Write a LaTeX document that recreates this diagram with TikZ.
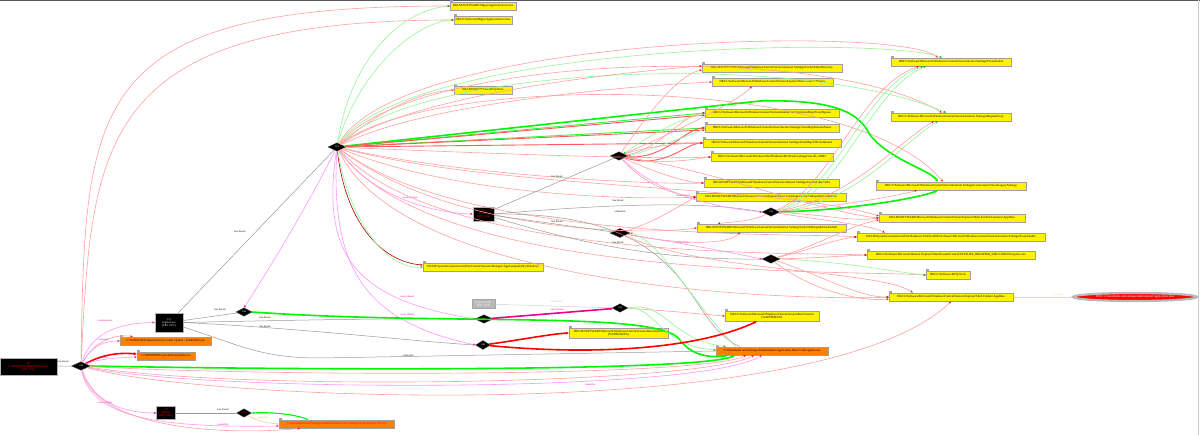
\documentclass[tikz,border=0pt]{standalone}
\usepackage{fontspec}
\setmainfont{Liberation Serif}
\usetikzlibrary{shapes.geometric,arrows.meta}
\definecolor{lred}{RGB}{255,160,160}
\definecolor{lgreen}{RGB}{150,245,150}
\definecolor{lmag}{RGB}{255,150,255}
\definecolor{tgreen}{RGB}{0,245,0}
\definecolor{peach}{RGB}{255,205,140}
\definecolor{yel}{RGB}{240,240,60}
\newcommand{\bsl}{\textbackslash}
\newcommand{\tf}{\fontsize{3.1}{3.5}\selectfont}
\newcommand{\lf}{\fontsize{2.6}{3}\selectfont}
\newcommand{\pf}{\fontsize{2.8}{3.1}\selectfont}
\newcommand{\df}{\fontsize{2.2}{2.5}\selectfont}
\tikzset{
  lab/.style={font=\lf, inner sep=0.3pt, text=black},
  labm/.style={lab, text=magenta},
  proc/.style={rectangle, fill=black, draw=gray!60, line width=0.6pt, inner sep=0.5pt, align=center, font=\pf},
  dia/.style={diamond, fill=black, draw=black!70, line width=0.4pt, inner sep=0pt, aspect=2.2, minimum width=18pt, minimum height=8.5pt, font=\df, text=white},
  reg/.style={rectangle, fill=yellow, draw=gray!75, line width=0.45pt, inner sep=0.5pt, minimum height=8.5pt, font=\tf, align=center},
  fil/.style={reg, fill=orange},
  rl/.style={draw=lred, line width=0.6pt, -{Stealth[length=2.4pt,width=2pt,color=red]}},
  rm/.style={draw=red!65, line width=0.9pt, -{Stealth[length=2.6pt,width=2.4pt,color=red]}},
  gl/.style={draw=lgreen, line width=0.6pt, -{Stealth[length=2.4pt,width=2pt,color=green!70!black]}},
  gm/.style={draw=tgreen!80, line width=0.9pt, -{Stealth[length=2.6pt,width=2.4pt,color=green!70!black]}},
  ml/.style={draw=lmag, line width=0.6pt, -{Stealth[length=2.4pt,width=2pt,color=magenta]}},
  tg/.style={draw=tgreen, line width=1.6pt, -{Stealth[length=3pt,width=3pt]}},
  mg/.style={draw=tgreen, line width=1.1pt, -{Stealth[length=2.6pt,width=2.6pt]}},
  tr/.style={draw=red, line width=1.6pt, -{Stealth[length=3pt,width=3pt]}},
  tm/.style={draw=magenta, line width=1.6pt, -{Stealth[length=3pt,width=3pt]}},
  gy/.style={draw=gray!80, line width=0.5pt},
  lgy/.style={draw=gray!35, line width=0.5pt},
  pe/.style={draw=peach, line width=0.6pt, -{Stealth[length=2.4pt,width=2pt,color=peach]}},
  yl/.style={draw=yel, line width=0.6pt, -{Stealth[length=2.4pt,width=2pt,color=yel]}},
}
\begin{document}
\begin{tikzpicture}[x=1pt,y=-1pt]
\useasboundingbox (0,0) rectangle (1200,435);
\fill[white] (0,0) rectangle (1200,435);
\draw[gray!70!black, line width=0.8pt] (0,0.4) -- (1200,0.4);
\draw[gray!40, line width=0.6pt] (1198.5,0) -- (1198.5,435);

% ---------- processes ----------
\node[proc, text=red, minimum width=57pt, minimum height=17pt] (P0) at (28.5,366.5) {[0]\\C:\bsl WINDOWS\bsl TEMP\bsl 8d9a6ca.exe\\(PID: 1792)};
\node[proc, text=white, minimum width=28pt, minimum height=19pt] (P1) at (169,322.5) {[1]\\explorer.exe\\(PID: 1972)};
\node[proc, text=red, minimum width=21pt, minimum height=14pt] (P2) at (483.5,214) {[2]\\iexplore\\(PID: 1748)};
\node[proc, text=red, minimum width=19pt, minimum height=13pt] (P3) at (166,413) {[3]\\cmd.exe\\(PID: 1836)};
\node[proc, fill=gray!55, draw=gray!70, text=white, minimum width=23pt, minimum height=9pt] (P4) at (483.5,304) {Explorer.EXE\\(PID: 1736)};

% ---------- threads ----------
\node[dia, minimum width=19pt] (D0) at (81,366) {1796};
\node[dia] (D1) at (337,147) {1976};
\node[dia, minimum width=16pt] (D2) at (244,312) {1980};
\node[dia, text=red] (D3) at (619,156) {1752};
\node[dia, text=red, minimum width=20pt, minimum height=9pt] (D4) at (620,233) {1760};
\node[dia] (D5) at (771,212) {1764};
\node[dia, text=red] (D6) at (771,259) {1768};
\node[dia, text=red] (D7) at (484,319) {1984};
\node[dia, minimum width=16pt] (D8) at (620,308) {1740};
\node[dia, minimum width=15pt, minimum height=9pt] (D9) at (483,345) {1988};
\node[dia, text=red, minimum width=15pt] (D10) at (244,413) {1840};

% ---------- registry keys ----------
\node[reg, minimum width=66pt] (R1) at (483,6) {HKLM\bsl SOFTWARE\bsl Mipps\bsl ApplicationLicense};
\node[reg, minimum width=58pt] (R2) at (483,20) {HKCU\bsl Software\bsl Mipps\bsl ApplicationLicense};
\node[reg, minimum width=58pt] (R3) at (483,90) {HKLM\bsl SOFTWARE\bsl RVQ\bsl Tools};
\node[reg, minimum width=140pt] (R4) at (772,68) {HKLM\bsl SOFTWARE\bsl Microsoft\bsl Windows\bsl CurrentVersion\bsl Internet Settings\bsl Cache\bsl Paths\bsl Directory};
\node[reg, minimum width=121pt] (R5) at (772.5,82) {HKCU\bsl Software\bsl Microsoft\bsl Windows\bsl CurrentVersion\bsl Explorer\bsl Shell Folders\bsl History};
\node[reg, minimum width=134pt] (R6) at (772,113) {HKCU\bsl Software\bsl Microsoft\bsl Windows\bsl CurrentVersion\bsl Internet Settings\bsl ZoneMap\bsl ProxyBypass};
\node[reg, minimum width=134pt] (R7) at (772,128) {HKCU\bsl Software\bsl Microsoft\bsl Windows\bsl CurrentVersion\bsl Internet Settings\bsl ZoneMap\bsl IntranetName};
\node[reg, minimum width=138pt] (R8) at (772,143) {HKCU\bsl Software\bsl Microsoft\bsl Windows\bsl CurrentVersion\bsl Internet Settings\bsl ZoneMap\bsl UNCAsIntranet};
\node[reg, minimum width=122pt] (R9) at (772,157) {HKCU\bsl Software\bsl Microsoft\bsl Windows\bsl ShellNoRoam\bsl MUICache\bsl @xpsp3res.dll,-20001};
\node[reg, minimum width=135pt] (R10) at (771.5,183) {HKLM\bsl SOFTWARE\bsl Microsoft\bsl Windows\bsl CurrentVersion\bsl Internet Settings\bsl Cache\bsl Paths\bsl Paths};
\node[reg, minimum width=150pt] (R11) at (771,197) {HKLM\bsl SOFTWARE\bsl Microsoft\bsl Windows\bsl CurrentVersion\bsl Internet Settings\bsl Cache\bsl Paths\bsl path1\bsl CachePath};
\node[reg, minimum width=149pt] (R12) at (771.5,228) {HKLM\bsl SOFTWARE\bsl Microsoft\bsl Windows\bsl CurrentVersion\bsl Internet Settings\bsl Cache\bsl Paths\bsl path4\bsl CachePath};
\node[reg, minimum width=120pt] (R13) at (951,62) {HKCU\bsl Software\bsl Microsoft\bsl Windows\bsl CurrentVersion\bsl Internet Settings\bsl ProxyEnable};
\node[reg, minimum width=120pt] (R14) at (951,117) {HKCU\bsl Software\bsl Microsoft\bsl Windows\bsl CurrentVersion\bsl Internet Settings\bsl MigrateProxy};
\node[reg, minimum width=150pt] (R15) at (951,186) {HKCU\bsl Software\bsl Microsoft\bsl Windows\bsl CurrentVersion\bsl Internet Settings\bsl Connections\bsl SavedLegacySettings};
\node[reg, minimum width=146pt] (R16) at (952,218) {HKLM\bsl SOFTWARE\bsl Microsoft\bsl Windows\bsl CurrentVersion\bsl Explorer\bsl Shell Folders\bsl Common AppData};
\node[reg, minimum width=188pt] (R17) at (951,237) {HKLM\bsl System\bsl CurrentControlSet\bsl Hardware Profiles\bsl 0001\bsl Software\bsl Microsoft\bsl Windows\bsl CurrentVersion\bsl Internet Settings\bsl ProxyEnable};
\node[reg, minimum width=168pt] (R18) at (951,255) {HKCU\bsl Software\bsl Microsoft\bsl Internet Explorer\bsl Main\bsl FeatureControl\bsl FEATURE\_BROWSER\_EMULATION\bsl iexplore.exe};
\node[reg, minimum width=44pt] (R19) at (948,275) {HKCU\bsl Software\bsl RVQ\bsl Tools};
\node[reg, minimum width=124pt] (R20) at (951,297) {HKCU\bsl Software\bsl Microsoft\bsl Windows\bsl CurrentVersion\bsl Explorer\bsl Shell Folders\bsl AppData};
\node[reg, minimum width=120pt] (R21) at (483,267) {HKLM\bsl System\bsl CurrentControlSet\bsl Control\bsl Session Manager\bsl AppCompatibility\bsl Windows};
\node[reg, minimum width=94pt, minimum height=10.5pt] (R22) at (772,316) {HKCU\bsl Software\bsl Microsoft\bsl Windows\bsl CurrentVersion\bsl Run\bsl Userinit\\(\%APPDATA\%)};
\node[reg, minimum width=99pt, minimum height=10.5pt] (R23) at (618.5,333) {HKLM\bsl SOFTWARE\bsl Microsoft\bsl Windows\bsl CurrentVersion\bsl Run\bsl Userinit\\(\%APPDATA\%)};

% ---------- files ----------
\node[fil, minimum width=91pt] (F1) at (165.5,341) {C:\bsl WINDOWS\bsl Tasks\bsl Security Center Update - 420454925.job};
\node[fil, minimum width=58pt] (F2) at (166,356) {C:\bsl WINDOWS\bsl system32\bsl sysfolder.exe};
\node[fil, minimum width=112pt] (F3) at (772,351) {C:\bsl Documents and Settings\bsl Administrator\bsl Application Data\bsl Uwbh\bsl ogwba.exe};
\node[fil, minimum width=115pt, text=red] (F4) at (336.5,424) {C:\bsl Documents and Settings\bsl Administrator\bsl Local Settings\bsl Temp\bsl tmp4F1701.bat};

\node[ellipse, fill=red, draw=gray!55, line width=2.2pt, minimum width=124pt, minimum height=8pt, inner sep=0pt, text=white, font=\tf] (E) at (1135,297) {FILE: c:\bsl documents and settings\bsl administrator\bsl application data};

\foreach \n in {R1,R2,R3,R4,R5,R6,R7,R8,R9,R10,R11,R12,R13,R14,R15,R16,R17,R18,R19,R20,R21,R22,R23,F1,F2,F3,F4}
  \draw[fill=gray!40, draw=gray!70, line width=0.3pt] (\n.north west) rectangle ++(2.6,-1.3);

% ---------- edges of thread D0 ----------
\draw[gy] (P0) -- (D0);
\node[lab] (l1) at (63,362) {has thread};
\draw[ml] (D0) .. controls (90,335) and (115,323) .. (P1.west);
\node[labm] (l2) at (105,321) {create process};
\draw[rl] (D0) .. controls (95,340) and (115,334) .. ([xshift=13pt]F1.north west);
\draw[ml] (D0) .. controls (92,345) and (105,341) .. (F1.west);
\node[labm] (l3) at (103,340) {create file};
\draw[tr] (D0) .. controls (100,356) and (115,352) .. ([yshift=2pt]F2.west);
\draw[ml] (D0) .. controls (95,360) and (110,358) .. ([yshift=-1pt]F2.west);
\node[labm] (l4) at (103,358) {create file};
\draw[tg] (D0.east) .. controls (300,370) and (700,372) .. ([xshift=19pt]F3.south west);
\draw[rl] (D0) .. controls (250,376) and (700,378) .. ([xshift=30pt]F3.south west);
\draw[rl] (D0) .. controls (250,392) and (700,384) .. ([xshift=38pt]F3.south west);
\draw[ml] (D0) .. controls (200,392) and (700,394) .. ([xshift=46pt]F3.south west);
\node[labm] (l5) at (590,385) {create file};
\draw[rl] (D0) .. controls (200,400) and (820,428) .. (R20.south);
\draw[ml] (D0) .. controls (92,400) and (120,413) .. (P3.west);
\node[labm] (l6) at (105,403) {create process};
\draw[ml] (D0) .. controls (90,418) and (160,428) .. ([yshift=-2pt]F4.west);
\node[labm] (l7) at (223,425) {create file};
\draw[rl] (D0) .. controls (95,428) and (220,436) .. ([xshift=21pt]F4.south west);
\draw[rl] (D0) .. controls (85,100) and (88,6) .. (R1.west);
\draw[rl] (D0) .. controls (92,140) and (98,20) .. (R2.west);

% ---------- process P1 ----------
\draw[gy] (P1) -- (D1);
\node[lab] (l8) at (240,232) {has thread};
\draw[gy] (P1) -- (D2);
\node[lab] (l9) at (220,310) {has thread};
\draw[gy] (P1.east) .. controls (300,320) and (400,318) .. (D7.west);
\node[lab] (l10) at (265,318) {has thread};
\draw[gy] (P1.east) .. controls (300,328) and (420,342) .. (D9.west);
\node[lab] (l11) at (265,327) {has thread};
\draw[gy] (P1) .. controls (240,345) and (260,358) .. (320,358) -- (F3.west);
\node[lab] (l12) at (408,355.5) {a thread in};

% ---------- thread D1 ----------
\draw[ml] (D1) .. controls (370,195) and (430,213) .. (P2.west);
\node[labm] (l13) at (410,198) {create process};
\draw[ml] (D1) .. controls (300,220) and (262,280) .. (D2.north);
\draw[ml] (D1) .. controls (320,260) and (360,300) .. (D7.west);
\node[labm] (l14) at (407,297) {create thread};
\draw[ml] (D1) .. controls (330,275) and (370,322) .. (D9.west);
\node[labm] (l15) at (407,315) {create thread};
\draw[gl] (D1) .. controls (350,60) and (400,10) .. (R1.west);
\draw[gl] (D1) .. controls (355,80) and (410,22) .. (R2.west);
\draw[rl] (D1) .. controls (380,110) and (420,92) .. (R3.west);
\draw[rl] (D1) .. controls (400,35) and (900,25) .. ([xshift=47pt]R13.north west);
\draw[gl] (D1) .. controls (405,45) and (880,35) .. ([xshift=51pt]R13.north west);
\draw[rl] (D1) .. controls (410,55) and (820,40) .. ([xshift=51pt]R14.north west);
\draw[gl] (D1) .. controls (415,65) and (800,50) .. ([xshift=55pt]R14.north west);
\draw[rl] (D1) .. controls (425,75) and (850,70) .. ([xshift=67pt]R15.north west);
\draw[tg] (D1) -- (760,101) .. controls (840,99) and (860,115) .. (870,135) .. controls (890,160) and (930,170) .. ([xshift=62pt]R15.north west);
\draw[rl] (D1) .. controls (420,90) and (650,70) .. ([yshift=2pt]R4.west);
\draw[rl] (D1) .. controls (430,100) and (650,85) .. (R5.west);
\draw[gm] (D1) -- (R6.west);
\draw[rm] (D1) -- ([yshift=-2pt]R6.west);
\draw[gm] (D1) -- (R7.west);
\draw[rm] (D1) -- ([yshift=-2pt]R7.west);
\draw[rm] (D1) -- (R8.west);
\draw[rl] (D1) .. controls (450,152) and (650,160) .. (R9.west);
\draw[rl] (D1) .. controls (460,175) and (650,185) .. (R10.west);
\draw[rl] (D1) .. controls (460,198) and (650,200) .. (R11.west);
\draw[rl] (D1) .. controls (450,232) and (640,236) .. (R12.west);
\draw[rl] (D1) .. controls (500,190) and (780,185) .. ([yshift=2pt]R16.west);
\draw[rl] (D1) .. controls (470,245) and (800,232) .. (R17.west);
\draw[rl] (D1) .. controls (440,262) and (800,252) .. (R18.west);
\draw[rl] (D1) .. controls (430,282) and (850,270) .. (R19.west);
\draw[rl] (D1) .. controls (410,300) and (850,300) .. (R20.west);
\draw[draw=red!70!black, line width=0.6pt, -{Stealth[length=2.4pt,width=2pt,color=red]}] (D1) .. controls (345,220) and (380,262) .. ([yshift=2pt]R21.west);
\draw[gl] (D1) .. controls (352,232) and (392,270) .. (R21.west);

% ---------- process P2 ----------
\draw[gy] (P2) -- (D3);
\node[lab] (l16) at (557,177) {has thread};
\draw[gy] (P2) -- (D4);
\node[lab] (l17) at (557,222) {has thread};
\draw[gy] (P2.east) .. controls (600,205) and (700,200) .. (D5.west);
\node[lab] (l18) at (618,201) {has thread};
\draw[gy] (P2.east) .. controls (700,212) and (680,320) .. ([xshift=24pt]F3.north west);
\node[lab] (l19) at (620,211.5) {a thread in};
\draw[gy] (P2) .. controls (600,250) and (680,260) .. (D6.west);
\node[lab] (l20) at (618,243) {has thread};

% ---------- thread D3 ----------
\draw[ml] (D3) .. controls (650,185) and (690,205) .. (D5.west);
\node[labm] (l21) at (683,196) {create thread};
\draw[rl] (D3) .. controls (650,110) and (680,74) .. ([yshift=-2pt]R4.west);
\draw[rl] (D3) .. controls (680,130) and (740,100) .. ([xshift=40pt]R5.south west);
\draw[rl] (D3) .. controls (660,150) and (680,115) .. (R6.west);
\draw[gl] ([yshift=-1pt]R6.west) .. controls (680,118) and (650,135) .. (D3.north east);
\draw[rm] (D3) .. controls (665,160) and (685,128) .. (R7.west);
\draw[gl] ([yshift=-1pt]R7.west) .. controls (690,135) and (650,150) .. (D3.east);
\draw[rm] (D3) .. controls (665,170) and (685,143) .. (R8.west);
\draw[rl] (D3) .. controls (650,145) and (690,143) .. (R8.west);
\draw[rl] (D3) .. controls (660,165) and (690,160) .. (R9.west);
\draw[rl] (D3) .. controls (660,175) and (690,183) .. (R10.west);
\draw[rl] (D3) .. controls (650,190) and (680,195) .. (R11.west);
\draw[rl] (D3) .. controls (720,172) and (820,212) .. (R16.west);

% ---------- thread D4 ----------
\draw[ml] (D4) .. controls (660,240) and (710,248) .. (D6.west);
\node[labm] (l22) at (683,243) {create thread};
\draw[rl] (D4) .. controls (680,245) and (730,245) .. ([xshift=43pt]R12.south west);
\draw[rl] (D4) .. controls (660,220) and (680,205) .. (R11.west);
\draw[rl] (D4) .. controls (700,272) and (880,270) .. ([xshift=24pt]R20.north west);
\draw[gl] ([xshift=20pt]F3.north west) .. controls (690,300) and (660,240) .. (D4.east);

% ---------- thread D5 ----------
\draw[rl] (D5) .. controls (750,222) and (730,222) .. ([xshift=21pt]R12.north west);
\draw[rl] (D5) .. controls (830,190) and (860,85) .. ([xshift=28pt]R13.south west);
\draw[gl] (D5) .. controls (835,195) and (865,85) .. ([xshift=32pt]R13.south west);
\draw[gl] (D5) .. controls (840,200) and (870,88) .. ([xshift=35pt]R13.south west);
\draw[rl] (D5) .. controls (850,200) and (900,140) .. ([xshift=43pt]R14.south west);
\draw[gl] (D5) .. controls (855,205) and (905,140) .. ([xshift=47pt]R14.south west);
\draw[rl] (D5) .. controls (850,205) and (900,195) .. ([xshift=41pt]R15.south west);
\draw[tg] (D5.east) .. controls (850,210) and (920,198) .. ([xshift=62pt]R15.south west);
\draw[rl] (D5) .. controls (830,215) and (850,222) .. (R16.west);
\draw[rl] (D5) .. controls (820,220) and (870,225) .. ([xshift=28pt]R17.north west);

% ---------- thread D6 ----------
\draw[rl] (D6) .. controls (820,258) and (840,256) .. (R18.west);
\draw[rl] (D6) .. controls (810,250) and (830,240) .. (R17.west);
\draw[gl] (D6.east) .. controls (850,262) and (900,273) .. (R19.west);
\draw[rl] (D6) .. controls (820,275) and (860,298) .. (R20.west);
\draw[rl] (D6) .. controls (810,290) and (860,302) .. ([yshift=-2pt]R20.west);
\draw[rl] (D6) .. controls (820,245) and (850,225) .. ([yshift=-2pt]R16.west);

% ---------- threads D2, D7, D8, D9 ----------
\draw[tg] (D2.east) .. controls (450,326) and (660,310) .. (680,340) .. controls (692,356) and (710,358) .. ([xshift=12pt]F3.south west);
\draw[tm] (D7) -- (D8);
\node[labm] (l23) at (557,310) {inject thread};
\draw[lgy] (P4) -- (D8);
\node[lab, text=gray!60] (l24) at (557,302) {has thread};
\draw[rl] (D8) .. controls (660,310) and (700,314) .. (R22.west);
\draw[gl] (D8.east) .. controls (665,300) and (670,340) .. ([xshift=10pt]F3.north west);
\draw[gl] (D8.east) .. controls (655,306) and (660,346) .. ([yshift=1pt]F3.west);
\draw[tr] (D9) .. controls (520,340) and (550,334) .. (R23.west);
\draw[tr] (D9) .. controls (600,356) and (700,348) .. ([xshift=32pt]R22.south west);

% ---------- process P3 ----------
\draw[gy] (P3) -- (D10);
\node[lab] (l25) at (223,410) {has thread};
\draw[mg] ([xshift=29pt]F4.north west) .. controls (295,414) and (270,412) .. (D10.east);
\draw[pe] (D10) .. controls (255,420) and (265,423) .. (F4.west);
\node[lab, text=peach!90!black] (l26) at (263,418) {delete file};

% ---------- file object ----------
\draw[yl] (E) -- (R20);
\node[lab, text=yel] (l27) at (1058,295) {ref in reg};
\end{tikzpicture}
\end{document}
